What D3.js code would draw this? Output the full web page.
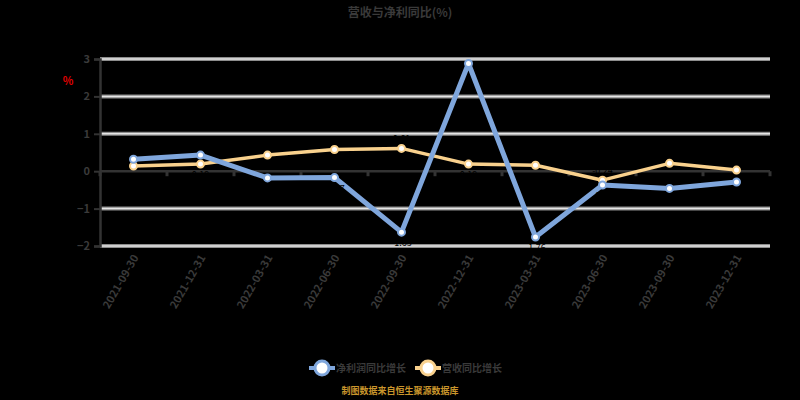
<!DOCTYPE html>
<html><head><meta charset="utf-8">
<script src="https://cdn.jsdelivr.net/npm/d3@7/dist/d3.min.js"></script>
<style>html,body{margin:0;padding:0;background:#000;}svg{display:block;}</style>
</head><body>
<svg id="c" width="800" height="400"></svg>
<script>
const categories = ["2021-09-30","2021-12-31","2022-03-31","2022-06-30","2022-09-30","2022-12-31","2023-03-31","2023-06-30","2023-09-30","2023-12-31"];
const profitGrowth = [0.32, 0.43, -0.18, -0.17, -1.63, 2.88, -1.76, -0.37, -0.46, -0.29];
const revenueGrowth = [0.14, 0.19, 0.43, 0.58, 0.61, 0.19, 0.16, -0.24, 0.21, 0.03];
const yTicks = [-2, -1, 0, 1, 2, 3];
const seriesNames = ["净利润同比增长", "营收同比增长"];
const titleText = "营收与净利同比(%)";
const unitText = "%";
const sourceText = "制图数据来自恒生聚源数据库";

const svg = d3.select("#c");
const L = 100, R = 770, T = 59, B = 246;
const x = d3.scaleBand().domain(categories).range([L, R]);
const y = d3.scaleLinear().domain([-2, 3]).range([B, T]);
const font = "'Noto Sans CJK SC','Noto Sans',sans-serif";
const txt = "#3a3a3a";

svg.append("rect").attr("width", 800).attr("height", 400).attr("fill", "#000");

svg.append("text").attr("x", 400).attr("y", 17).attr("text-anchor", "middle")
  .attr("font-family", font).attr("font-size", 12).attr("font-weight", "bold")
  .attr("fill", txt).text(titleText);

svg.append("text").attr("x", 68).attr("y", 85).attr("text-anchor", "middle")
  .attr("font-family", font).attr("font-size", 11).attr("font-weight", "bold")
  .attr("fill", "#e00000").text(unitText);

const grid = svg.append("g");
yTicks.filter(d => d !== 0).forEach(d => {
  grid.append("line").attr("x1", L).attr("x2", R).attr("y1", y(d)).attr("y2", y(d))
    .attr("stroke", "#8c8c8c").attr("stroke-width", 4);
  grid.append("line").attr("x1", L).attr("x2", R).attr("y1", y(d)).attr("y2", y(d))
    .attr("stroke", "#e6e6e6").attr("stroke-width", 1.5);
});

const yAxis = d3.axisLeft(y).tickValues(yTicks).tickSize(6).tickPadding(4).tickFormat(d3.format("d"));
const ya = svg.append("g").attr("transform", `translate(${L},0)`).call(yAxis);
ya.select(".domain").attr("stroke", "#333").attr("stroke-width", 2.5);
ya.selectAll(".tick line").attr("stroke", "#333").attr("stroke-width", 2);
ya.selectAll(".tick text").attr("fill", txt).attr("font-family", font)
  .attr("font-size", 11).attr("font-weight", "bold");

const xa = svg.append("g").attr("transform", `translate(0,${y(0)})`);
xa.append("line").attr("x1", L).attr("x2", R).attr("y1", 0).attr("y2", 0)
  .attr("stroke", "#333").attr("stroke-width", 2.5);
const bounds = categories.map(c => x(c)).concat([R]);
xa.selectAll(".tk").data(bounds).enter().append("line")
  .attr("x1", d => d).attr("x2", d => d).attr("y1", 0).attr("y2", 5)
  .attr("stroke", "#333").attr("stroke-width", 3);

svg.append("g").selectAll("text").data(categories).enter().append("text")
  .attr("transform", d => `translate(${x(d) + x.bandwidth() / 2 + 3},${B + 10}) rotate(-60)`)
  .attr("text-anchor", "end").attr("dominant-baseline", "middle")
  .attr("font-family", font).attr("font-size", 11).attr("font-weight", "bold")
  .attr("fill", txt).text(d => d);

const cx = d => x(d) + x.bandwidth() / 2;
const series = [
  {name: seriesNames[0], vals: profitGrowth, color: "#7fa6dc", w: 5},
  {name: seriesNames[1], vals: revenueGrowth, color: "#f9d18d", w: 3.5}
];
[series[1], series[0]].forEach(s => {
  const line = d3.line().x((d, i) => cx(categories[i])).y(d => y(d));
  svg.append("path").datum(s.vals).attr("d", line).attr("fill", "none")
    .attr("stroke", s.color).attr("stroke-width", s.w).attr("stroke-linejoin", "round");
  svg.append("g").selectAll("circle").data(s.vals).enter().append("circle")
    .attr("cx", (d, i) => cx(categories[i])).attr("cy", d => y(d)).attr("r", 3.5)
    .attr("fill", "#fff").attr("stroke", s.color).attr("stroke-width", 2);
});
// data labels (black): higher series above, lower below
series.forEach((s, si) => {
  const other = series[1 - si].vals;
  svg.append("g").selectAll("text").data(s.vals).enter().append("text")
    .attr("x", (d, i) => cx(categories[i]))
    .attr("y", (d, i) => d >= other[i] ? y(d) - 6 : y(d) + 14)
    .attr("text-anchor", "middle").attr("font-family", font).attr("font-size", 9)
    .attr("fill", "#000").text(d => d.toFixed(2));
});

const lg = svg.append("g");
const items = [{s: series[0], x: 322}, {s: series[1], x: 428}];
items.forEach(it => {
  lg.append("line").attr("x1", it.x - 13).attr("x2", it.x + 13).attr("y1", 368).attr("y2", 368)
    .attr("stroke", it.s.color).attr("stroke-width", 4);
  lg.append("circle").attr("cx", it.x).attr("cy", 368).attr("r", 7)
    .attr("fill", "#fff").attr("stroke", it.s.color).attr("stroke-width", 3);
  lg.append("text").attr("x", it.x + 14).attr("y", 372).attr("font-family", font)
    .attr("font-size", 10).attr("font-weight", "bold").attr("fill", txt).text(it.s.name);
});

svg.append("text").attr("x", 400).attr("y", 394).attr("text-anchor", "middle")
  .attr("font-family", font).attr("font-size", 9).attr("font-weight", "bold")
  .attr("fill", "#c9952c").text(sourceText);
</script>
</body></html>
